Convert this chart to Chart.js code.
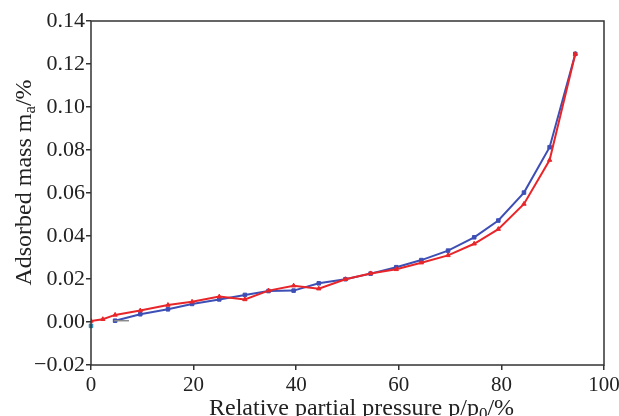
<!DOCTYPE html>
<html><head><meta charset="utf-8">
<script src="https://cdn.jsdelivr.net/npm/chart.js@4/dist/chart.umd.min.js"></script>
<style>html,body{margin:0;padding:0;background:#fff;}canvas{display:block;}</style>
</head><body>
<canvas id="c" width="619" height="416"></canvas>
<script>
const xTicks = [0, 20, 40, 60, 80, 100];
const yTicks = [-0.02, 0, 0.02, 0.04, 0.06, 0.08, 0.10, 0.12, 0.14];
const redX = [0, 2.3, 4.7, 9.6, 15, 19.7, 25, 30, 34.6, 39.5, 44.4, 49.6, 54.5, 59.5, 64.4, 69.6, 74.7, 79.4, 84.4, 89.4, 94.4];
const redY = [0.0005, 0.0013, 0.0033, 0.0053, 0.0079, 0.0094, 0.0118, 0.0105, 0.0146, 0.0169, 0.0155, 0.0199, 0.0226, 0.0245, 0.0276, 0.0310, 0.0364, 0.0432, 0.0549, 0.0753, 0.1247];
const blueX = [4.7, 9.6, 15, 19.7, 25, 30, 34.6, 39.5, 44.4, 49.6, 54.5, 59.5, 64.4, 69.6, 74.7, 79.4, 84.4, 89.4, 94.4];
const blueY = [0.0006, 0.0036, 0.0059, 0.0084, 0.0105, 0.0126, 0.0144, 0.0146, 0.0180, 0.0199, 0.0225, 0.0255, 0.0288, 0.0332, 0.0394, 0.0472, 0.0602, 0.0813, 0.1247];
const grayX = [4.5, 7.4];
const grayY = [0.0006, 0.0006];
const tealX = [0];
const tealY = [-0.0018];

const toPts = (xs, ys) => xs.map((x, i) => ({x: x, y: ys[i]}));
const FONT = '"Liberation Serif", "Times New Roman", serif';

const framePlugin = {
  id: 'frame',
  afterDraw(chart) {
    const {ctx, chartArea: a} = chart;
    ctx.save();
    ctx.strokeStyle = '#333';
    ctx.lineWidth = 1.5;
    ctx.strokeRect(a.left, a.top, a.right - a.left, a.bottom - a.top);
    ctx.fillStyle = '#222';
    const big = '24px ' + FONT, small = '17px ' + FONT;
    const p1 = 'Relative partial pressure p/p', p2 = '0', p3 = '/%';
    ctx.font = big; const w1 = ctx.measureText(p1).width;
    ctx.font = small; const w2 = ctx.measureText(p2).width;
    let x = 209;
    const by = 415;
    ctx.textBaseline = 'alphabetic'; ctx.textAlign = 'left';
    ctx.font = big; ctx.fillText(p1, x, by); x += w1;
    ctx.font = small; ctx.fillText(p2, x, by + 4); x += w2;
    ctx.font = big; ctx.fillText(p3, x, by);
    ctx.translate(31, 182.5);
    ctx.rotate(-Math.PI / 2);
    const q1 = 'Adsorbed mass m', q2 = 'a', q3 = '/%';
    ctx.font = big; const v1 = ctx.measureText(q1).width, v3 = ctx.measureText(q3).width;
    ctx.font = small; const v2 = ctx.measureText(q2).width;
    let t = -(v1 + v2 + v3) / 2;
    ctx.font = big; ctx.fillText(q1, t, 0); t += v1;
    ctx.font = small; ctx.fillText(q2, t, 4); t += v2;
    ctx.font = big; ctx.fillText(q3, t, 0);
    ctx.restore();
  }
};

new Chart(document.getElementById('c'), {
  type: 'scatter',
  data: {
    datasets: [
      {data: toPts(grayX, grayY), showLine: true, borderColor: '#8a8a8a', borderWidth: 1.5, pointRadius: 0},
      {data: toPts(redX, redY), showLine: true, borderColor: '#e8262a', backgroundColor: '#e8262a', borderWidth: 2, pointStyle: 'triangle', pointRadius: 2.5, pointBorderWidth: 1},
      {data: toPts(blueX, blueY), showLine: true, borderColor: '#3d4fb5', backgroundColor: '#3d4fb5', borderWidth: 2, pointStyle: 'rect', pointRadius: 2.5, pointBorderWidth: 1},
      {data: toPts(tealX, tealY), showLine: false, borderColor: '#2a8ab5', backgroundColor: '#2a8ab5', pointStyle: 'rect', pointRadius: 2.5, clip: false}
    ]
  },
  options: {
    responsive: false,
    animation: false,
    layout: {padding: {left: 0, right: 15, top: 21, bottom: 0}},
    plugins: {legend: {display: false}, tooltip: {enabled: false}},
    scales: {
      x: {
        type: 'linear', min: 0, max: 100,
        afterBuildTicks: s => { s.ticks = xTicks.map(v => ({value: v})); },
        afterFit: s => { s.height = 51; s.paddingLeft = 0; s.paddingRight = 0; },
        grid: {display: true, drawOnChartArea: false, drawTicks: true, tickLength: 5, color: '#333', lineWidth: 1.5},
        border: {display: false},
        ticks: {color: '#222', font: {family: FONT, size: 21}, padding: 3, maxRotation: 0, autoSkip: false}
      },
      y: {
        type: 'linear', min: -0.02, max: 0.14,
        afterBuildTicks: s => { s.ticks = yTicks.map(v => ({value: v})); },
        afterFit: s => { s.width = 91; s.paddingTop = 0; s.paddingBottom = 0; },
        grid: {display: true, drawOnChartArea: false, drawTicks: true, tickLength: 5, color: '#333', lineWidth: 1.5},
        border: {display: false},
        ticks: {color: '#222', font: {family: FONT, size: 22}, padding: 1, autoSkip: false,
          callback: v => (v < 0 ? '\u2212' : '') + Math.abs(v).toFixed(2)}
      }
    }
  },
  plugins: [framePlugin]
});
</script>
</body></html>
